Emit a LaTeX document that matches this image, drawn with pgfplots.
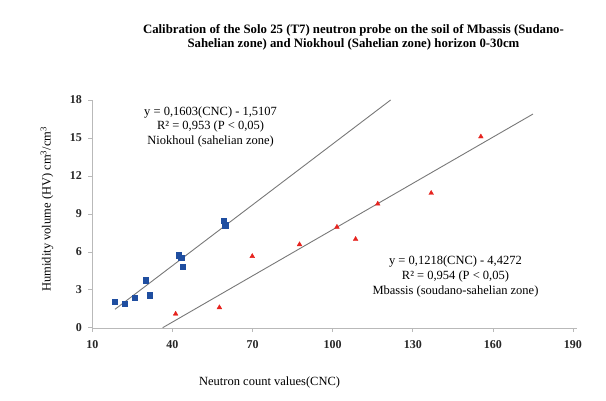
\documentclass[border=0pt]{standalone}
\usepackage{fontspec}
\setmainfont{Liberation Serif}
\usepackage{pgfplots}
\pgfplotsset{compat=1.18}
\definecolor{ptblue}{RGB}{31,78,160}
\definecolor{ptred}{RGB}{230,35,30}
\definecolor{axgray}{RGB}{185,185,185}
\definecolor{fitgray}{RGB}{120,120,120}

\begin{document}
\begin{tikzpicture}
\path[use as bounding box] (-92.3pt,-72.3pt) rectangle (513.7pt,327.7pt);
\begin{axis}[
  at={(0pt,0pt)}, anchor=south west,
  scale only axis, width=484.7pt, height=227.7pt,
  xmin=10, xmax=191.5, ymin=0, ymax=18,
  xtick={10,40,...,190}, ytick={0,3,...,18},
  axis lines=left, axis line style={axgray, -},
  tick style={axgray, line width=0.6pt}, tick align=outside, major tick length=4pt,
  clip=false,
  /pgf/number format/assume math mode=true,
  ticklabel style={font=\fontsize{12}{14}\selectfont\bfseries, text=black!85},
  xticklabel style={yshift=-5pt},
  yticklabel style={xshift=-3pt},
]

% Niokhoul (sahelian zone)
\addplot[only marks, mark=square*, mark size=2.7pt, color=ptblue] coordinates {
  (18.5,2.07) (22.1,1.91) (25.8,2.36) (30.0,3.74) (31.5,2.58)
  (42.4,5.73) (43.3,5.55) (43.75,4.83) (59.3,8.45) (59.8,8.1)
};
% Mbassis (soudano-sahelian zone)
\addplot[only marks, mark=triangle*, mark size=2.7pt, color=ptred] coordinates {
  (41.2,1.09) (57.6,1.6) (69.9,5.65) (87.6,6.58) (101.6,7.96)
  (108.6,7.0) (116.9,9.79) (136.9,10.64) (155.5,15.1)
};

% trend lines
\addplot[fitgray, line width=0.9pt] coordinates {(18.5,1.455) (121.7,17.998)};
\addplot[fitgray, line width=0.9pt] coordinates {(36.35,0) (175,16.888)};

% title and axis labels
\node[align=center, font=\fontsize{12.8}{14}\selectfont\bfseries]
  at (axis cs:107.8,22.93) {Calibration of the Solo 25 (T7) neutron probe on the soil of Mbassis (Sudano-\\Sahelian zone) and Niokhoul (Sahelian zone) horizon 0-30cm};
\node[font=\fontsize{12.5}{15}\selectfont] at (axis cs:76.4,-4.3) {Neutron count values(CNC)};
\node[rotate=90, font=\fontsize{12.5}{15}\selectfont] at (axis cs:-7.0,9.37) {Humidity volume (HV) cm\textsuperscript{3}/cm\textsuperscript{3}};

% regression annotations
\node[align=center, font=\fontsize{12.5}{14.7}\selectfont] at (axis cs:54.3,15.88)
  {y = 0,1603(CNC) - 1,5107\\R² = 0,953 (P < 0,05)\\Niokhoul (sahelian zone)};
\node[align=center, font=\fontsize{12.5}{15}\selectfont] at (axis cs:146.0,4.01)
  {y = 0,1218(CNC) - 4,4272\\R² = 0,954 (P < 0,05)\\Mbassis (soudano-sahelian zone)};
\end{axis}
\end{tikzpicture}
\end{document}
